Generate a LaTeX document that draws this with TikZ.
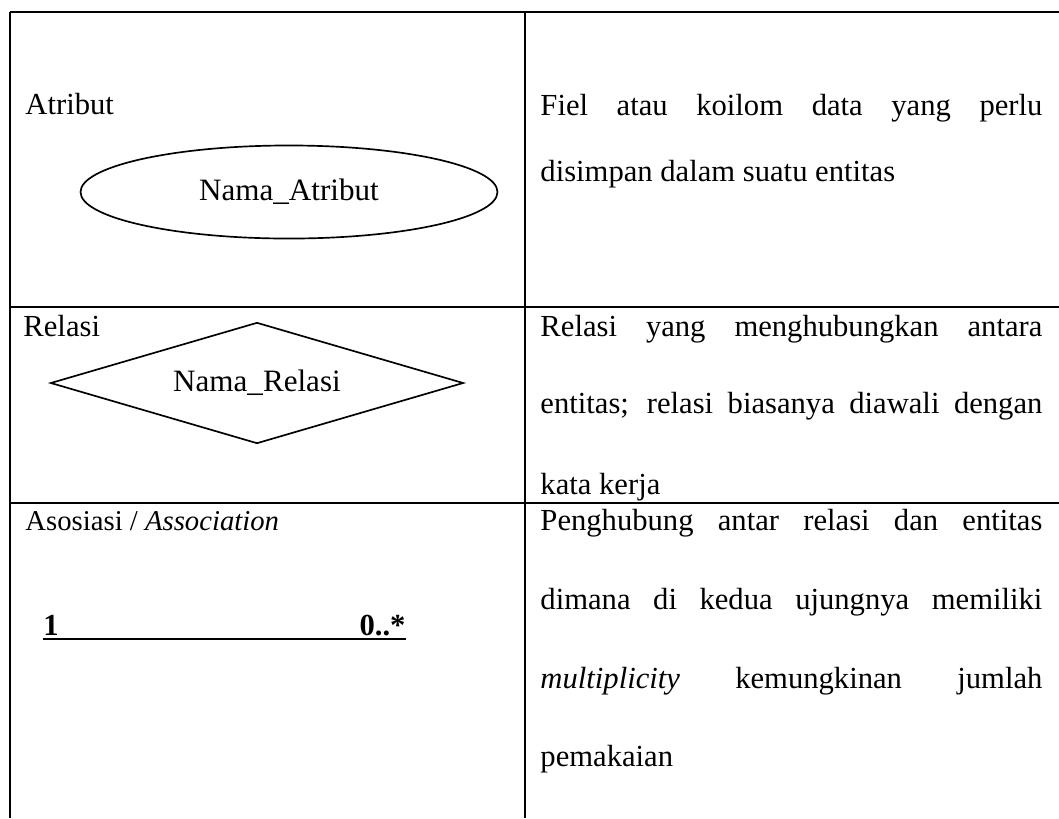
\documentclass[tikz,border=0pt]{standalone}
\usepackage{fontspec}
\setmainfont{Liberation Serif}
\usetikzlibrary{shapes.geometric}
\begin{document}
\begin{tikzpicture}[x=0.418pt,y=-0.418pt,
  rule/.style={line width=0.85pt},
  txt/.style={anchor=base west,inner sep=0pt,font=\fontsize{12.8pt}{15pt}\selectfont},
  shapetxt/.style={draw,line width=0.7pt,inner sep=0pt,font=\fontsize{13pt}{15pt}\selectfont}]
\useasboundingbox (0,0) rectangle (1059,818);
\newcommand{\jline}[1]{\makebox[209.8pt][s]{#1}}

% table rules
\draw[rule] (10,12) -- (1059,12);
\draw[rule] (10,307) -- (1059,307);
\draw[rule] (10,503) -- (1059,503);
\draw[rule] (10,12) -- (10,818);
\draw[rule] (525,12) -- (525,818);

% row 1: attribute
\node[txt] (atrlbl) at (25,114) {Atribut};
\node[shapetxt,ellipse,minimum width=174.3pt,minimum height=38.9pt] (atr) at (289,192) {Nama\_Atribut};
\node[txt] (d1a) at (540,115) {\jline{Fiel atau koilom data yang perlu}};
\node[txt] (d1b) at (540,181) {disimpan dalam suatu entitas};

% row 2: relation
\node[txt] (rellbl) at (23,336) {Relasi};
\node[shapetxt,diamond,aspect=3.41,minimum width=172.6pt,minimum height=50.6pt] (rel) at (257,383) {\raisebox{1.2pt}{Nama\_Relasi}};
\node[txt] (d2a) at (540,336) {\jline{Relasi yang menghubungkan antara}};
\node[txt] (d2b) at (540,413) {\jline{entitas; relasi biasanya diawali dengan}};
\node[txt] (d2c) at (540,494) {kata kerja};

% row 3: association
\node[txt,font=\fontsize{12pt}{14pt}\selectfont] (asslbl) at (25,530) {Asosiasi / \textit{Association}};
\node[txt,font=\fontsize{12.8pt}{15pt}\selectfont\bfseries] (one) at (43,635) {1};
\node[txt,anchor=base east,font=\fontsize{12.8pt}{15pt}\selectfont\bfseries] (many) at (406,635) {0..*};
\coordinate (ua) at (43,639);
\coordinate (ub) at (406,639);
\draw[line width=0.85pt] (ua) -- (ub);
\node[txt] (d3a) at (540,530) {\jline{Penghubung antar relasi dan entitas}};
\node[txt] (d3b) at (540,609) {\jline{dimana di kedua ujungnya memiliki}};
\node[txt] (d3c) at (540,688) {\jline{\textit{multiplicity} kemungkinan jumlah}};
\node[txt] (d3d) at (540,766) {pemakaian};
\end{tikzpicture}
\end{document}
